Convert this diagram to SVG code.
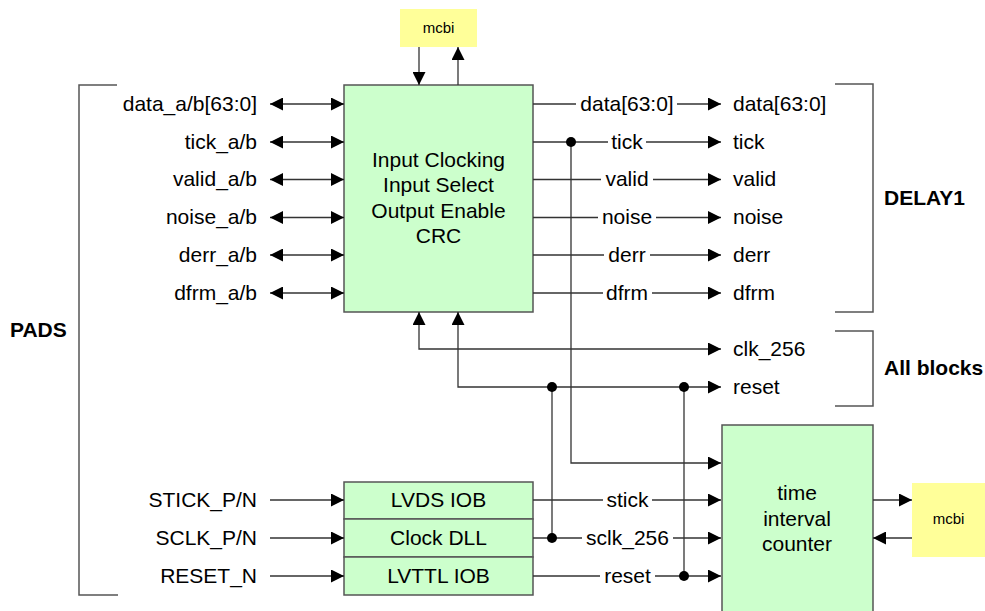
<svg xmlns="http://www.w3.org/2000/svg" width="985" height="611" viewBox="0 0 985 611">
<style>
text{font-family:"Liberation Sans",Arial,sans-serif;font-size:21px;fill:#000}
.b{font-weight:bold}
.s{font-size:15px}
.m{text-anchor:middle}
.e{text-anchor:end}
.box{fill:#ccffcc;stroke:#555;stroke-width:1.5}
.yel{fill:#ffff99;stroke:none}
.w{fill:none;stroke:#333;stroke-width:1.3}
.br{fill:none;stroke:#555;stroke-width:1.5}
.dot{fill:#000}
</style>
<defs>
<marker id="ah" markerUnits="userSpaceOnUse" markerWidth="13" markerHeight="13" refX="13" refY="6.5" orient="auto-start-reverse">
<path d="M0,0 L13,6.5 L0,13 z" fill="#000"/>
</marker>
</defs>
<rect width="985" height="611" fill="#fff"/>

<g id="pads">
<path class="br" d="M117,85 H79 V595 H118"/>
<text class="b" x="10" y="337">PADS</text>
<text class="e" x="257" y="111">data_a/b[63:0]</text>
<text class="e" x="257" y="149">tick_a/b</text>
<text class="e" x="257" y="186">valid_a/b</text>
<text class="e" x="257" y="224">noise_a/b</text>
<text class="e" x="257" y="262">derr_a/b</text>
<text class="e" x="257" y="300">dfrm_a/b</text>
<text class="e" x="257" y="507">STICK_P/N</text>
<text class="e" x="257" y="545">SCLK_P/N</text>
<text class="e" x="257" y="583">RESET_N</text>
</g>

<g id="mcbi-top">
<rect class="yel" x="400" y="9" width="77" height="38"/>
<text class="s m" x="438.5" y="33">mcbi</text>
</g>

<g id="main-block">
<rect class="box" x="344" y="85" width="189" height="227"/>
<text class="m" x="438.5" y="167">Input Clocking</text>
<text class="m" x="438.5" y="192">Input Select</text>
<text class="m" x="438.5" y="218">Output Enable</text>
<text class="m" x="438.5" y="243">CRC</text>
</g>

<g id="delay1">
<path class="br" d="M835,84 H873 V312 H835"/>
<text class="b" x="884" y="205">DELAY1</text>
<text x="733" y="111">data[63:0]</text>
<text x="733" y="149">tick</text>
<text x="733" y="186">valid</text>
<text x="733" y="224">noise</text>
<text x="733" y="262">derr</text>
<text x="733" y="300">dfrm</text>
</g>

<g id="all-blocks">
<path class="br" d="M835,331 H873 V406 H835"/>
<text class="b" x="884" y="375">All blocks</text>
<text x="733" y="356">clk_256</text>
<text x="733" y="394">reset</text>
</g>

<g id="iob-blocks">
<rect class="box" x="344" y="482" width="189" height="37"/>
<rect class="box" x="344" y="519" width="189" height="38"/>
<rect class="box" x="344" y="557" width="189" height="38"/>
<text class="m" x="438.5" y="507">LVDS IOB</text>
<text class="m" x="438.5" y="545">Clock DLL</text>
<text class="m" x="438.5" y="583">LVTTL IOB</text>
</g>

<g id="tic">
<rect class="box" x="722" y="425" width="151" height="200"/>
<text class="m" x="797" y="500">time</text>
<text class="m" x="797" y="526">interval</text>
<text class="m" x="797" y="551">counter</text>
</g>

<g id="mcbi-right">
<rect class="yel" x="912" y="483" width="80" height="74"/>
<text class="s m" x="948.5" y="524">mcbi</text>
</g>

<g id="connectors">
<path class="w" d="M419,47 V85" marker-end="url(#ah)"/>
<path class="w" d="M458,85 V47" marker-end="url(#ah)"/>

<path class="w" d="M270,104 H344" marker-start="url(#ah)" marker-end="url(#ah)"/>
<path class="w" d="M270,142 H344" marker-start="url(#ah)" marker-end="url(#ah)"/>
<path class="w" d="M270,179.5 H344" marker-start="url(#ah)" marker-end="url(#ah)"/>
<path class="w" d="M270,217.5 H344" marker-start="url(#ah)" marker-end="url(#ah)"/>
<path class="w" d="M270,255 H344" marker-start="url(#ah)" marker-end="url(#ah)"/>
<path class="w" d="M270,293 H344" marker-start="url(#ah)" marker-end="url(#ah)"/>

<path class="w" d="M270,500 H344" marker-end="url(#ah)"/>
<path class="w" d="M270,538 H344" marker-end="url(#ah)"/>
<path class="w" d="M270,576 H344" marker-end="url(#ah)"/>

<path class="w" d="M533,104 H576"/><path class="w" d="M677,104 H721" marker-end="url(#ah)"/>
<path class="w" d="M533,142 H608"/><path class="w" d="M646,142 H721" marker-end="url(#ah)"/>
<path class="w" d="M533,179.5 H601"/><path class="w" d="M653,179.5 H721" marker-end="url(#ah)"/>
<path class="w" d="M533,217.5 H598"/><path class="w" d="M656,217.5 H721" marker-end="url(#ah)"/>
<path class="w" d="M533,255 H604"/><path class="w" d="M650,255 H721" marker-end="url(#ah)"/>
<path class="w" d="M533,293 H603"/><path class="w" d="M652,293 H721" marker-end="url(#ah)"/>

<path class="w" d="M571,142 V463 H721" marker-end="url(#ah)"/>
<circle class="dot" cx="571" cy="142" r="5"/>

<path class="w" d="M419,312 V349 H721" marker-start="url(#ah)" marker-end="url(#ah)"/>
<path class="w" d="M458,312 V387 H721" marker-start="url(#ah)" marker-end="url(#ah)"/>

<path class="w" d="M533,500 H603"/><path class="w" d="M652,500 H721" marker-end="url(#ah)"/>
<path class="w" d="M533,538 H582"/><path class="w" d="M673,538 H721" marker-end="url(#ah)"/>
<path class="w" d="M533,576 H600"/><path class="w" d="M655,576 H721" marker-end="url(#ah)"/>

<path class="w" d="M552,387 V538"/>
<path class="w" d="M684,387 V576"/>
<circle class="dot" cx="552" cy="387" r="5"/>
<circle class="dot" cx="552" cy="538" r="5"/>
<circle class="dot" cx="684" cy="387" r="5"/>
<circle class="dot" cx="684" cy="576" r="5"/>

<path class="w" d="M873,500 H912" marker-end="url(#ah)"/>
<path class="w" d="M912,538 H873" marker-end="url(#ah)"/>
</g>
<text x="627" y="111" class="m">data[63:0]</text>
<text x="627" y="149" class="m">tick</text>
<text x="627" y="186" class="m">valid</text>
<text x="627" y="224" class="m">noise</text>
<text x="627" y="262" class="m">derr</text>
<text x="627" y="300" class="m">dfrm</text>
<text x="627.5" y="507" class="m">stick</text>
<text x="627.5" y="545" class="m">sclk_256</text>
<text x="627.5" y="583" class="m">reset</text>
</svg>
